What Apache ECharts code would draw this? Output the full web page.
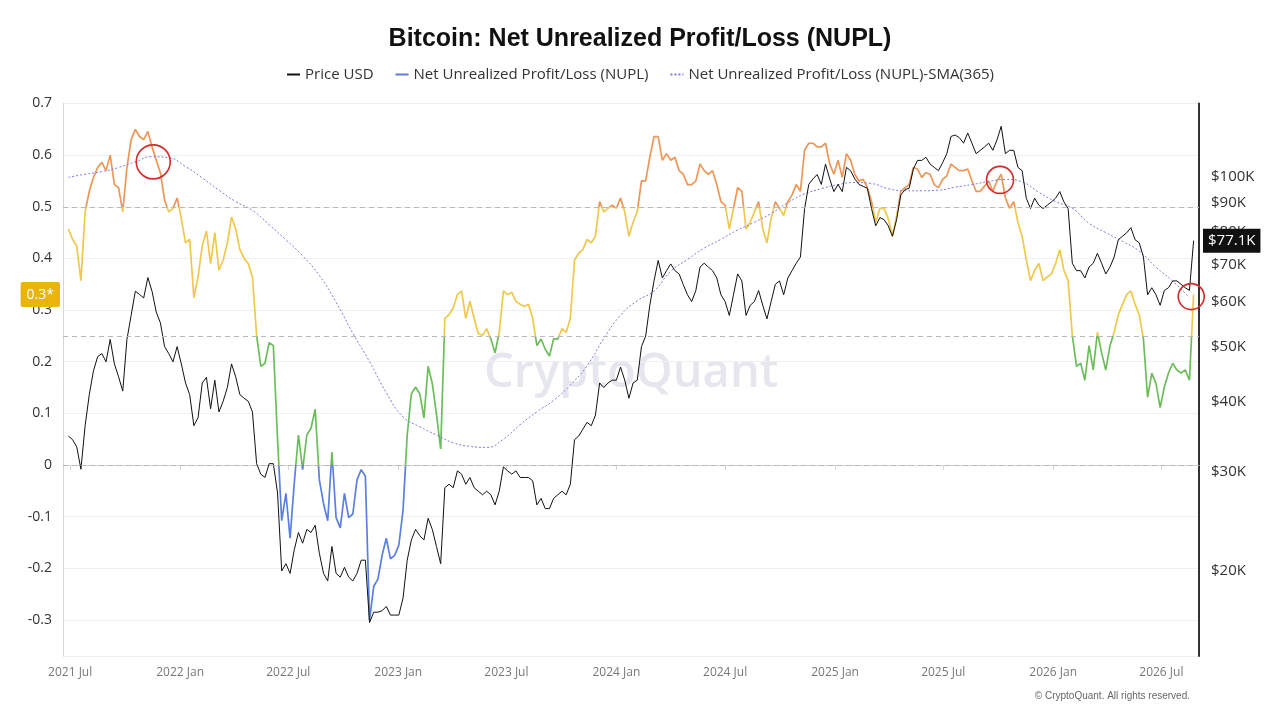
<!DOCTYPE html>
<html>
<head>
<meta charset="utf-8">
<script src="https://cdn.jsdelivr.net/npm/echarts@6/dist/echarts.min.js"></script>
<style>
html, body { margin: 0; padding: 0; background: #fff; }
#main { width: 1280px; height: 720px; }
</style>
</head>
<body>
<div id="main"></div>
<script>
// weekly samples
var startDate = '2021-06-28'
var stepDays = 7

// NUPL, one value per week
var nupl = [
  0.457, 0.437, 0.424, 0.357, 0.490, 0.530, 0.557, 0.576, 0.586, 0.570,
  0.600, 0.543, 0.537, 0.490, 0.576, 0.630, 0.650, 0.636, 0.630, 0.646,
  0.616, 0.590, 0.566, 0.513, 0.490, 0.497, 0.517, 0.477, 0.430, 0.437,
  0.324, 0.364, 0.424, 0.453, 0.390, 0.450, 0.377, 0.397, 0.430, 0.480,
  0.457, 0.417, 0.400, 0.390, 0.364, 0.251, 0.191, 0.197, 0.237, 0.231,
  0.050, -0.108, -0.055, -0.142, -0.035, 0.058, -0.009, 0.058, 0.071, 0.108,
  -0.029, -0.075, -0.108, 0.025, -0.102, -0.122, -0.055, -0.102, -0.095, -0.029,
  -0.009, -0.022, -0.300, -0.235, -0.221, -0.175, -0.142, -0.182, -0.175, -0.155,
  -0.088, 0.058, 0.138, 0.151, 0.138, 0.091, 0.191, 0.158, 0.098, 0.031,
  0.284, 0.291, 0.304, 0.330, 0.337, 0.284, 0.317, 0.284, 0.254, 0.251,
  0.264, 0.244, 0.217, 0.257, 0.337, 0.330, 0.334, 0.317, 0.311, 0.307,
  0.311, 0.284, 0.231, 0.244, 0.224, 0.211, 0.244, 0.244, 0.264, 0.257,
  0.284, 0.397, 0.410, 0.417, 0.437, 0.430, 0.443, 0.510, 0.490, 0.497,
  0.503, 0.497, 0.517, 0.490, 0.443, 0.470, 0.490, 0.550, 0.550, 0.596,
  0.636, 0.636, 0.590, 0.603, 0.590, 0.596, 0.570, 0.563, 0.543, 0.543,
  0.550, 0.583, 0.570, 0.563, 0.570, 0.543, 0.510, 0.503, 0.457, 0.497,
  0.537, 0.530, 0.457, 0.470, 0.490, 0.510, 0.457, 0.430, 0.477, 0.510,
  0.497, 0.483, 0.510, 0.523, 0.543, 0.530, 0.610, 0.623, 0.623, 0.616,
  0.616, 0.623, 0.583, 0.563, 0.590, 0.557, 0.603, 0.590, 0.563, 0.550,
  0.553, 0.537, 0.510, 0.470, 0.497, 0.497, 0.477, 0.443, 0.483, 0.530,
  0.537, 0.543, 0.576, 0.573, 0.557, 0.566, 0.563, 0.543, 0.537, 0.553,
  0.560, 0.583, 0.576, 0.570, 0.570, 0.573, 0.550, 0.530, 0.530, 0.540,
  0.550, 0.530, 0.550, 0.563, 0.517, 0.497, 0.510, 0.470, 0.443, 0.397,
  0.357, 0.377, 0.390, 0.357, 0.364, 0.370, 0.390, 0.417, 0.377, 0.357,
  0.251, 0.191, 0.197, 0.164, 0.231, 0.184, 0.257, 0.217, 0.184, 0.231,
  0.257, 0.291, 0.311, 0.330, 0.337, 0.311, 0.291, 0.244, 0.131, 0.178,
  0.158, 0.111, 0.151, 0.178, 0.197, 0.184, 0.178, 0.184, 0.164, 0.330
]

// price in thousand USD, one value per week
var priceK = [
  34.7, 34.2, 33.2, 30.3, 36.2, 41.1, 45.3, 48.0, 48.6, 47.0,
  51.5, 46.6, 44.2, 41.7, 51.5, 56.8, 62.7, 61.9, 61.0, 66.3,
  62.7, 57.6, 55.1, 50.0, 48.6, 47.0, 50.0, 46.6, 43.1, 41.1,
  36.2, 37.4, 43.1, 44.1, 38.8, 43.6, 38.3, 40.0, 42.3, 46.6,
  44.2, 41.1, 40.5, 40.0, 38.3, 31.0, 29.7, 29.3, 31.0, 31.0,
  27.5, 20.0, 20.6, 19.8, 21.8, 23.4, 22.4, 23.7, 23.4, 24.1,
  21.5, 19.8, 19.2, 22.1, 19.8, 19.5, 20.3, 19.5, 19.2, 19.8,
  20.9, 20.9, 16.2, 16.9, 16.9, 17.0, 17.3, 16.7, 16.7, 16.7,
  17.9, 20.9, 22.7, 23.7, 23.1, 22.7, 24.8, 23.7, 22.1, 20.6,
  28.1, 28.5, 28.1, 30.1, 29.7, 28.5, 29.3, 28.1, 27.7, 27.3,
  27.7, 27.3, 26.2, 27.7, 30.6, 30.1, 29.7, 30.1, 29.3, 29.3,
  29.3, 28.9, 26.2, 26.9, 25.8, 25.8, 26.9, 27.3, 27.7, 27.3,
  28.5, 34.2, 34.7, 35.7, 36.7, 36.2, 37.8, 43.1, 42.3, 43.1,
  43.6, 43.6, 46.0, 43.6, 40.5, 43.1, 43.6, 50.0, 52.2, 59.2,
  65.4, 71.1, 66.2, 68.2, 70.1, 68.2, 67.3, 64.4, 61.8, 60.1,
  62.9, 69.2, 70.3, 69.2, 68.2, 66.2, 61.8, 60.1, 56.8, 61.8,
  67.3, 65.4, 56.8, 59.2, 60.1, 62.9, 59.2, 56.0, 60.1, 64.5,
  65.4, 61.8, 66.2, 68.2, 70.3, 72.1, 87.9, 97.0, 99.2, 101.0,
  97.0, 105.4, 99.2, 94.2, 97.0, 94.2, 104.0, 102.6, 99.2, 97.0,
  96.2, 95.5, 87.9, 81.9, 84.7, 84.0, 81.9, 78.5, 84.0, 92.9,
  95.0, 95.5, 103.3, 107.0, 107.0, 108.4, 105.4, 104.0, 102.6, 106.0,
  110.0, 118.0, 118.7, 117.4, 114.8, 119.7, 114.8, 110.0, 111.5, 113.0,
  114.8, 111.5, 116.4, 123.0, 110.0, 111.5, 111.5, 104.0, 102.6, 91.7,
  87.9, 91.7, 89.1, 87.9, 89.1, 90.3, 91.7, 94.2, 90.3, 87.9,
  70.3, 68.2, 68.2, 66.2, 69.2, 70.3, 73.2, 70.3, 67.3, 69.2,
  72.1, 77.4, 78.5, 79.6, 81.3, 77.4, 76.4, 72.1, 61.8, 63.6,
  61.8, 59.2, 62.9, 63.6, 65.4, 65.4, 64.5, 63.6, 62.9, 77.1
]

// NUPL SMA(365), one value every 4 weeks
var smaStep = 4
var sma = [
  0.557, 0.563, 0.568, 0.576, 0.587, 0.597, 0.595, 0.578, 0.556, 0.532,
  0.510, 0.493, 0.465, 0.436, 0.405, 0.367, 0.315, 0.255, 0.200, 0.140,
  0.093, 0.074, 0.058, 0.043, 0.036, 0.034, 0.050, 0.078, 0.103, 0.125,
  0.155, 0.192, 0.245, 0.290, 0.318, 0.337, 0.375, 0.398, 0.420, 0.437,
  0.455, 0.470, 0.487, 0.508, 0.525, 0.535, 0.543, 0.547, 0.545, 0.535,
  0.531, 0.531, 0.532, 0.538, 0.543, 0.549, 0.553, 0.548, 0.528, 0.510,
  0.497, 0.468, 0.450, 0.433, 0.414, 0.383, 0.356, 0.324
]

var refLines = [0.5, 0.25, 0]
var priceTicks = [20000, 30000, 40000, 50000, 60000, 70000, 80000, 90000, 100000]
var timeTicks = ['2021-07-01', '2022-01-01', '2022-07-01', '2023-01-01', '2023-07-01', '2024-01-01',
  '2024-07-01', '2025-01-01', '2025-07-01', '2026-01-01', '2026-07-01']

// red rings: [date, nupl, size]
var rings = [['2021-11-17', 0.587, 34], ['2025-10-04', 0.552, 27], ['2026-08-20', 0.326, 26]]

var lastNuplLabel = '0.3*'
var lastPriceLabel = '$77.1K'

var colBlue = '#5b7fde'
var colGreen = '#6cbd5a'
var colYellow = '#efc84c'
var colOrange = '#ef9556'

var dayMs = 86400000
function utc(s) { return +new Date(s + 'T00:00:00Z') }
var t0 = utc(startDate)
var nuplData = nupl.map(function (v, i) { return [t0 + i * stepDays * dayMs, v] })
var priceData = priceK.map(function (v, i) { return [t0 + i * stepDays * dayMs, v * 1000] })
var smaData = sma.map(function (v, i) { return [t0 + i * smaStep * stepDays * dayMs, v] })
var tickVals = timeTicks.map(utc)
var months = ['Jan', 'Feb', 'Mar', 'Apr', 'May', 'Jun', 'Jul', 'Aug', 'Sep', 'Oct', 'Nov', 'Dec']

var mychart = echarts.init(document.getElementById('main'))

// dashed guides at 0.5 / 0.25 / 0 and the yellow tag for the last value
var markLineData = refLines.map(function (v) {
  return { yAxis: v, lineStyle: { color: '#b9b9b9', type: [5, 4], width: 1 }, label: { show: false } }
})
markLineData.push({
  yAxis: nupl[nupl.length - 1],
  lineStyle: { color: 'rgba(0,0,0,0)', width: 0 },
  label: {
    show: true, position: 'start', distance: 3, formatter: lastNuplLabel,
    color: '#fff', backgroundColor: '#e9b50c', padding: [6, 6, 5, 6], fontSize: 14,
    borderRadius: 2, fontFamily: 'Open Sans'
  }
})

var option = {
  animation: false,
  backgroundColor: '#fff',
  title: {
    text: 'Bitcoin: Net Unrealized Profit/Loss (NUPL)',
    left: 'center',
    top: 22,
    textStyle: { fontSize: 25, fontWeight: 'bold', color: '#111', fontFamily: 'Liberation Sans' }
  },
  legend: {
    top: 62,
    left: 'center',
    itemWidth: 13,
    itemHeight: 8,
    itemGap: 21,
    itemStyle: { opacity: 0 },
    data: ['Price USD', 'Net Unrealized Profit/Loss (NUPL)', 'Net Unrealized Profit/Loss (NUPL)-SMA(365)'],
    textStyle: { fontSize: 15, color: '#333', fontFamily: 'Open Sans' }
  },
  grid: { left: 63, right: 81, top: 103.5, bottom: 64 },
  visualMap: {
    show: false,
    type: 'piecewise',
    seriesIndex: 0,
    dimension: 1,
    pieces: [
      { lt: 0, color: colBlue },
      { gte: 0, lt: 0.25, color: colGreen },
      { gte: 0.25, lt: 0.5, color: colYellow },
      { gte: 0.5, color: colOrange }
    ]
  },
  xAxis: {
    type: 'value',
    min: utc('2021-06-19'),
    max: utc('2026-09-02'),
    axisLine: { lineStyle: { color: '#d3d6dd' } },
    axisTick: { show: true, customValues: tickVals, length: 5, lineStyle: { color: '#d3d6dd' } },
    axisLabel: {
      customValues: tickVals,
      color: '#777',
      fontSize: 12,
      margin: 11,
      fontFamily: 'Open Sans',
      formatter: function (v) {
        var d = new Date(v)
        return d.getUTCFullYear() + ' ' + months[d.getUTCMonth()]
      }
    },
    splitLine: { show: false }
  },
  yAxis: [{
    type: 'value',
    min: -0.37,
    max: 0.7,
    splitNumber: 10,
    axisLine: { show: true, lineStyle: { color: '#d3d6dd' } },
    axisTick: { show: false },
    axisLabel: {
      color: '#333', fontSize: 14, margin: 11, showMinLabel: false, fontFamily: 'Open Sans',
      formatter: function (v) { return String(Math.round(v * 10) / 10) }
    },
    splitLine: { lineStyle: { color: '#eff0f3' } }
  }, {
    type: 'log',
    logBase: 10,
    min: 14130,
    max: 135000,
    axisLine: { show: true, lineStyle: { color: '#333', width: 2 } },
    axisTick: { show: false },
    axisLabel: {
      customValues: priceTicks,
      color: '#333', fontSize: 15, margin: 12, fontFamily: 'Open Sans',
      formatter: function (v) { return '$' + Math.round(v / 1000) + 'K' }
    },
    splitLine: { show: false }
  }],
  graphic: [{
    type: 'text',
    left: 484,
    top: 350,
    z: -1,
    silent: true,
    style: { text: 'CryptoQuant', font: '600 47px "Open Sans"', fill: '#e6e6ee' }
  }, {
    type: 'text',
    right: 90,
    top: 691,
    silent: true,
    style: { text: '© CryptoQuant. All rights reserved.', font: '10px "Liberation Sans"', fill: '#666' }
  }],
  series: [{
    name: 'Net Unrealized Profit/Loss (NUPL)',
    type: 'line',
    data: nuplData,
    yAxisIndex: 0,
    showSymbol: false,
    symbol: 'none',
    color: colBlue,
    lineStyle: { width: 1.7 },
    z: 2
  }, {
    name: 'Net Unrealized Profit/Loss (NUPL)-SMA(365)',
    type: 'line',
    data: smaData,
    yAxisIndex: 0,
    showSymbol: false,
    symbol: 'none',
    smooth: true,
    color: '#7d7be6',
    lineStyle: { width: 1, type: [2, 2] },
    z: 3,
    markLine: { silent: true, symbol: 'none', animation: false, data: markLineData },
    markPoint: {
      silent: true,
      symbol: 'circle',
      itemStyle: { color: 'rgba(0,0,0,0)', borderColor: '#d42a2a', borderWidth: 1.6 },
      label: { show: false },
      data: rings.map(function (r) { return { coord: [utc(r[0]), r[1]], symbolSize: r[2] } })
    }
  }, {
    name: 'Price USD',
    type: 'line',
    data: priceData,
    yAxisIndex: 1,
    showSymbol: false,
    symbol: 'none',
    color: '#111',
    lineStyle: { width: 1 },
    z: 4,
    markLine: {
      silent: true,
      symbol: 'none',
      animation: false,
      data: [{
        yAxis: priceData[priceData.length - 1][1],
        lineStyle: { color: 'rgba(0,0,0,0)', width: 0 },
        label: {
          show: true, position: 'end', distance: 4, formatter: lastPriceLabel,
          color: '#fff', backgroundColor: '#111', padding: [5, 5, 4, 5], fontSize: 15,
          fontFamily: 'Open Sans'
        }
      }]
    }
  }]
}
mychart.setOption(option)
</script>
</body>
</html>
